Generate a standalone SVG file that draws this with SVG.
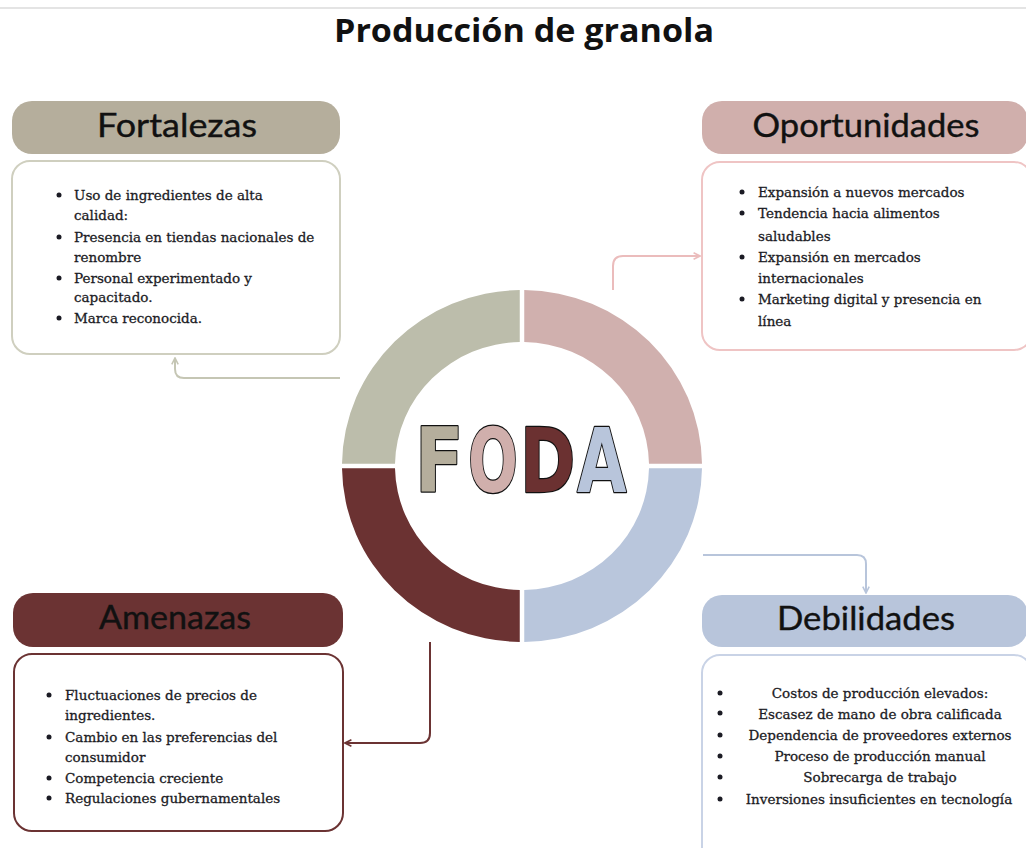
<svg xmlns="http://www.w3.org/2000/svg" width="1026" height="848" viewBox="0 0 1026 848">
<defs>
<style>
.title{font-family:"Open Sans","Liberation Sans",sans-serif;font-weight:700;font-size:33px;fill:#111;text-anchor:middle}
.hdr{font-family:"Lato","Noto Sans",sans-serif;font-size:33px;fill:#111;text-anchor:middle;stroke:#111;stroke-width:0.4}
.item{font-family:"DejaVu Serif","Liberation Serif",serif;font-size:13.5px;fill:#1b1b24;stroke:#1b1b24;stroke-width:0.3}
.ctr{text-anchor:middle}
.body{fill:#fff;stroke-width:2}
.conn{fill:none;stroke-width:2}
.foda{font-family:"DejaVu Sans","Liberation Sans",sans-serif;font-weight:700;font-size:89px;stroke:#111;stroke-width:2.5;stroke-linejoin:round;paint-order:stroke}
</style>
<marker id="aF" viewBox="0 0 10 10" refX="9" refY="5" markerWidth="4" markerHeight="4" orient="auto" markerUnits="strokeWidth"><path d="M1,1 L9,5 L1,9" fill="none" stroke="#c5c6b4" stroke-width="2"/></marker>
<marker id="aO" viewBox="0 0 10 10" refX="9" refY="5" markerWidth="4" markerHeight="4" orient="auto" markerUnits="strokeWidth"><path d="M1,1 L9,5 L1,9" fill="none" stroke="#ebbcbc" stroke-width="2"/></marker>
<marker id="aA" viewBox="0 0 10 10" refX="9" refY="5" markerWidth="4" markerHeight="4" orient="auto" markerUnits="strokeWidth"><path d="M1,1 L9,5 L1,9" fill="none" stroke="#6b3333" stroke-width="2"/></marker>
<marker id="aD" viewBox="0 0 10 10" refX="9" refY="5" markerWidth="4" markerHeight="4" orient="auto" markerUnits="strokeWidth"><path d="M1,1 L9,5 L1,9" fill="none" stroke="#b8c5db" stroke-width="2"/></marker>
</defs>
<rect width="1026" height="848" fill="#fff"/>
<line x1="0" y1="8" x2="1026" y2="8" stroke="#e4e4e4" stroke-width="2"/>
<text class="title" x="524" y="42" textLength="380" lengthAdjust="spacingAndGlyphs">Producción de granola</text>

<g id="connectors">
<path class="conn" stroke="#c5c6b4" d="M340,378 H184 Q175,378 175,369 V358" marker-end="url(#aF)"/>
<path class="conn" stroke="#ebbcbc" d="M613,290 V266 Q613,256 623,256 H700" marker-end="url(#aO)"/>
<path class="conn" stroke="#6b3333" d="M430,642 V733 Q430,743 420,743 H345" marker-end="url(#aA)"/>
<path class="conn" stroke="#b8c5db" d="M703,555 H857 Q866,555 866,564 V593" marker-end="url(#aD)"/>
</g>

<g id="foda">
<path fill="#bcbdab" d="M342,463.75 A180,176 0 0 1 519.75,290 L519.75,342 A127,124 0 0 0 395,463.75 Z"/>
<path fill="#d0b0ae" d="M524.25,290 A180,176 0 0 1 702,463.75 L649,463.75 A127,124 0 0 0 524.25,342 Z"/>
<path fill="#b9c6dc" d="M702,468.25 A180,176 0 0 1 524.25,642 L524.25,590 A127,124 0 0 0 649,468.25 Z"/>
<path fill="#6b3232" d="M519.75,642 A180,176 0 0 1 342,468.25 L395,468.25 A127,124 0 0 0 519.75,590 Z"/>
<text class="foda" transform="translate(415,492) scale(0.8,1)" fill="#b5ae9c">F</text>
<text class="foda" transform="translate(468,492) scale(0.66,1)" fill="#d0afac">O</text>
<text class="foda" transform="translate(520,492) scale(0.75,1)" fill="#6b3131">D</text>
<text class="foda" transform="translate(577,492) scale(0.72,1)" fill="#b8c5db">A</text>
</g>

<g id="fortalezas">
<rect x="12" y="101" width="328" height="53" rx="20" fill="#b5ae9c"/>
<text class="hdr" x="177" y="137" textLength="160" lengthAdjust="spacingAndGlyphs">Fortalezas</text>
<rect class="body" x="12" y="161" width="328" height="193" rx="18" stroke="#cfcfbf"/>
<g fill="#1b1b24"><circle cx="59" cy="195" r="2.5"/><circle cx="59" cy="237" r="2.5"/><circle cx="59" cy="278" r="2.5"/><circle cx="59" cy="318" r="2.5"/></g>
<text class="item" x="74" y="200">Uso de ingredientes de alta</text>
<text class="item" x="74" y="220">calidad:</text>
<text class="item" x="74" y="242">Presencia en tiendas nacionales de</text>
<text class="item" x="74" y="262">renombre</text>
<text class="item" x="74" y="283">Personal experimentado y</text>
<text class="item" x="74" y="302">capacitado.</text>
<text class="item" x="74" y="323">Marca reconocida.</text>
</g>

<g id="oportunidades">
<rect x="702" y="101" width="326" height="53" rx="20" fill="#d0afac"/>
<text class="hdr" x="866" y="137" textLength="227" lengthAdjust="spacingAndGlyphs">Oportunidades</text>
<rect class="body" x="702" y="162" width="330" height="188" rx="18" stroke="#efc4c4"/>
<g fill="#1b1b24"><circle cx="742" cy="192" r="2.5"/><circle cx="742" cy="213" r="2.5"/><circle cx="742" cy="257" r="2.5"/><circle cx="742" cy="299" r="2.5"/></g>
<text class="item" x="758" y="197">Expansión a nuevos mercados</text>
<text class="item" x="758" y="218">Tendencia hacia alimentos</text>
<text class="item" x="758" y="241">saludables</text>
<text class="item" x="758" y="262">Expansión en mercados</text>
<text class="item" x="758" y="283">internacionales</text>
<text class="item" x="758" y="304">Marketing digital y presencia en</text>
<text class="item" x="758" y="326">línea</text>
</g>

<g id="amenazas">
<rect x="13" y="593" width="330" height="54" rx="20" fill="#6b3333"/>
<text class="hdr" x="175" y="629" textLength="152" lengthAdjust="spacingAndGlyphs">Amenazas</text>
<rect class="body" x="14" y="654" width="329" height="177" rx="18" stroke="#6b3333"/>
<g fill="#1b1b24"><circle cx="49" cy="695" r="2.5"/><circle cx="49" cy="737" r="2.5"/><circle cx="49" cy="778" r="2.5"/><circle cx="49" cy="798" r="2.5"/></g>
<text class="item" x="65" y="700">Fluctuaciones de precios de</text>
<text class="item" x="65" y="720">ingredientes.</text>
<text class="item" x="65" y="742">Cambio en las preferencias del</text>
<text class="item" x="65" y="762">consumidor</text>
<text class="item" x="65" y="783">Competencia creciente</text>
<text class="item" x="65" y="803">Regulaciones gubernamentales</text>
</g>

<g id="debilidades">
<rect x="702" y="595" width="326" height="52" rx="20" fill="#b8c5db"/>
<text class="hdr" x="866" y="630" textLength="178" lengthAdjust="spacingAndGlyphs">Debilidades</text>
<rect class="body" x="702" y="655" width="330" height="210" rx="18" stroke="#c9d3e6"/>
<g fill="#1b1b24"><circle cx="720" cy="693" r="2.5"/><circle cx="720" cy="713" r="2.5"/><circle cx="720" cy="735" r="2.5"/><circle cx="720" cy="756" r="2.5"/><circle cx="720" cy="777" r="2.5"/><circle cx="720" cy="799" r="2.5"/></g>
<text class="item ctr" x="880" y="698">Costos de producción elevados:</text>
<text class="item ctr" x="880" y="719">Escasez de mano de obra calificada</text>
<text class="item ctr" x="880" y="740">Dependencia de proveedores externos</text>
<text class="item ctr" x="880" y="761">Proceso de producción manual</text>
<text class="item ctr" x="880" y="782">Sobrecarga de trabajo</text>
<text class="item ctr" x="879" y="804">Inversiones insuficientes en tecnología</text>
</g>
</svg>
